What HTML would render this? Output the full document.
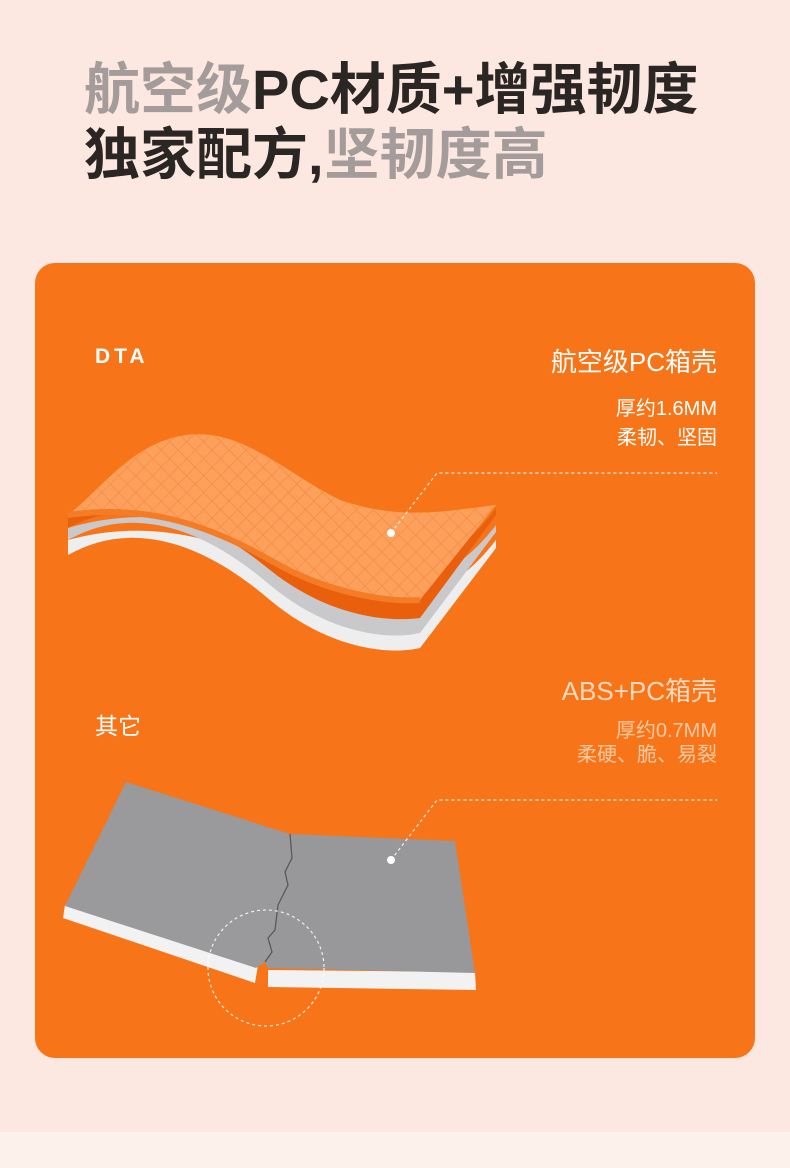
<!DOCTYPE html>
<html><head><meta charset="utf-8"><style>
body{margin:0;width:790px;height:1168px;background:#fde7e1;position:relative;overflow:hidden;font-family:"Liberation Sans","Noto Sans CJK SC",sans-serif}
.bot{position:absolute;left:0;top:1132px;width:790px;height:36px;background:#fdf1ec}
.t{position:absolute;left:84px;font-size:56px;font-weight:bold;color:#2a2624;line-height:1;white-space:nowrap}
.g{color:#a39c9a}
.card{position:absolute;left:35px;top:263px;width:720px;height:795px;background:#f77518;border-radius:20px}
.r{position:absolute;right:73px;color:#fff;text-align:right;white-space:nowrap}
</style></head><body>
<div class="bot"></div>
<div class="t" style="top:62px"><span class="g">航空级</span>PC材质+增强韧度</div>
<div class="t" style="top:127px">独家配方,<span class="g">坚韧度高</span></div>
<div class="card"></div>
<svg style="position:absolute;left:0;top:0" width="790" height="1168">
<defs><pattern id="p" width="12" height="12" patternUnits="userSpaceOnUse" patternTransform="rotate(45)"><rect width="12" height="12" fill="#fda05c"/><path d="M0 0H12M0 0V12" stroke="#f08a40" stroke-width="1.2"/></pattern></defs>
<text x="95" y="363" fill="#fff" font-size="21" font-weight="bold" letter-spacing="4" font-family="Liberation Sans">DTA</text>
<path d="M68 555 C130 520 200 540 270 600 C330 650 390 655 420 648 L496 548 L496 540 C450 600 400 610 330 590 C260 560 180 510 68 540Z" fill="#eeeeee"/>
<path d="M68 540 C130 505 200 525 270 585 C330 635 390 640 420 633 L496 532 L496 525 C450 585 400 595 330 575 C260 545 180 495 68 528Z" fill="#c9c9cb"/>
<path d="M68 528 C130 495 200 512 270 570 C330 618 390 622 420 618 L496 515 L496 508 C450 570 400 582 330 562 C260 532 180 485 68 515Z" fill="#e95f0c"/>
<path d="M68 515 C140 505 200 520 270 560 C330 595 390 602 420 600 L496 505 C440 512 400 520 340 500 C280 470 240 425 180 436 C130 446 100 490 68 515Z" fill="url(#p)"/>
<path d="M68 515 C140 505 200 520 270 560 C330 595 390 602 420 600" stroke="#f57c26" stroke-width="6" fill="none"/>
<path d="M63 918 L255 983 L258 965 L65 905Z" fill="#f2f2f2"/>
<path d="M268 987 L476 990 L475 972 L268 970Z" fill="#f2f2f2"/>
<path d="M126 782 L290 834 L292 858 L285 872 L288 885 L278 905 L275 930 L268 938 L272 952 L265 962 L256 968 L65 906Z" fill="#9a999c"/>
<path d="M290 834 L455 841 L475 973 L268 968 L265 962 L272 952 L268 938 L275 930 L278 905 L288 885 L285 872 L292 858Z" fill="#98979a"/>
<path d="M290 834 L292 858 L285 872 L288 885 L278 905 L275 930 L268 938 L272 952 L265 962" stroke="#555" stroke-width="1.2" fill="none"/>
<g stroke="#fff" stroke-width="1.2" stroke-dasharray="3 3" fill="none" opacity=".85">
<path d="M391 533 L437 473 H717"/><path d="M391 860 L437 800 H717"/>
<circle cx="266" cy="968" r="58"/></g>
<circle cx="391" cy="533" r="4" fill="#fff"/><circle cx="391" cy="860" r="4" fill="#fff"/>
</svg>
<div class="r" style="top:342px;font-size:26px">航空级PC箱壳</div>
<div class="r" style="top:395px;font-size:20px;line-height:29px">厚约1.6MM<br>柔韧、坚固</div>
<div class="r" style="top:671px;font-size:26px;color:#fdd9c0">ABS+PC箱壳</div>
<div class="r" style="top:719px;font-size:20px;line-height:24px;color:#fcc9a4">厚约0.7MM<br>柔硬、脆、易裂</div>
<div style="position:absolute;left:95px;top:707px;font-size:23px;color:#fff">其它</div>
</body></html>
